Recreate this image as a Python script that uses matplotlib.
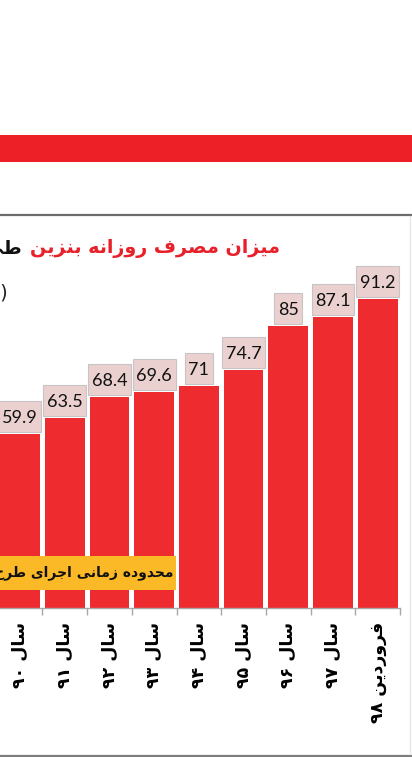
import matplotlib
matplotlib.use("Agg")
import matplotlib.pyplot as plt
from matplotlib.patches import Rectangle
from matplotlib.lines import Line2D
from matplotlib.transforms import IdentityTransform

# داده‌ها (میلیون لیتر در روز)
years = ["سال ۹۰", "سال ۹۱", "سال ۹۲", "سال ۹۳", "سال ۹۴",
         "سال ۹۵", "سال ۹۶", "سال ۹۷", "فروردین ۹۸"]
consumption = [59.9, 63.5, 68.4, 69.6, 71, 74.7, 85, 87.1, 91.2]
value_labels = ["59.9", "63.5", "68.4", "69.6", "71", "74.7", "85", "87.1", "91.2"]

title_red = "میزان مصرف روزانه بنزین"
title_black = "طی ۹ سال اخیر"
unit_text = "(میلیون لیتر)"
band_text = "محدوده زمانی اجرای طرح ســهمیه‌بندی"

W, H = 412, 757
BAR_RED = "#ee2b2f"

# شکل‌های حروف: منفرد، پایانی، آغازی، میانی
FORMS = {
    'ا': '\uFE8D\uFE8E', 'آ': '\uFE81\uFE82',
    'ب': '\uFE8F\uFE90\uFE91\uFE92', 'ت': '\uFE95\uFE96\uFE97\uFE98',
    'ج': '\uFE9D\uFE9E\uFE9F\uFEA0', 'ح': '\uFEA1\uFEA2\uFEA3\uFEA4',
    'خ': '\uFEA5\uFEA6\uFEA7\uFEA8',
    'د': '\uFEA9\uFEAA', 'ر': '\uFEAD\uFEAE', 'ز': '\uFEAF\uFEB0',
    'س': '\uFEB1\uFEB2\uFEB3\uFEB4', 'ص': '\uFEB9\uFEBA\uFEBB\uFEBC',
    'ط': '\uFEC1\uFEC2\uFEC3\uFEC4', 'ف': '\uFED1\uFED2\uFED3\uFED4',
    'ل': '\uFEDD\uFEDE\uFEDF\uFEE0', 'م': '\uFEE1\uFEE2\uFEE3\uFEE4',
    'ن': '\uFEE5\uFEE6\uFEE7\uFEE8', 'ه': '\uFEE9\uFEEA\uFEEB\uFEEC',
    'و': '\uFEED\uFEEE', 'ی': '\uFEEF\uFEF0\uFEF3\uFEF4',
}
MIRROR = {'(': ')', ')': '('}


def joins_next(c):
    return c == 'ـ' or (c in FORMS and len(FORMS[c]) == 4)


def is_letter(c):
    return c in FORMS or c == 'ـ'


# متن فارسی را به ترتیب دیداری با شکل‌های پیوسته تبدیل می‌کند
def fa(text):
    out = []
    for i, c in enumerate(text):
        if c not in FORMS:
            out.append(MIRROR.get(c, c))
            continue
        f = FORMS[c]
        prev = text[i - 1] if i > 0 else ''
        nxt = text[i + 1] if i + 1 < len(text) else ''
        cp = joins_next(prev)
        cn = len(f) == 4 and is_letter(nxt)
        if cp and cn:
            out.append(f[3])
        elif cp:
            out.append(f[1])
        elif cn:
            out.append(f[2])
        else:
            out.append(f[0])
    vis = out[::-1]
    res, run = [], []
    for c in vis:
        if c.isdigit() or (c == '.' and run):
            run.append(c)
        else:
            if run:
                res.extend(run[::-1])
                run = []
            res.append(c)
    res.extend(run[::-1])
    return ''.join(res).replace('\u200c', '')


def fx(x):
    return x / W


def fy(y):
    return 1 - y / H


fig = plt.figure(figsize=(W / 100, H / 100), dpi=100)
fig.patch.set_facecolor("white")

# نوار قرمز بالا و خطوط قاب
fig.add_artist(Rectangle((0, fy(162)), 1, (162 - 135) / H,
                         transform=fig.transFigure, color="#ed1f27", lw=0))
fig.add_artist(Line2D([0, 1], [fy(215), fy(215)], transform=fig.transFigure,
                      color="#6b6b6b", lw=1.6))
fig.add_artist(Line2D([0, 1], [fy(755.5), fy(755.5)], transform=fig.transFigure,
                      color="#7d7d7d", lw=1.6))
fig.add_artist(Line2D([fx(410), fx(410)], [fy(216), fy(754)], transform=fig.transFigure,
                      color="#e6e6e6", lw=1))

# محورها
x0_px, x1_px = -2.3, 400.0
ybase, ytop = 608, 260
ymin = 19.5
ax = fig.add_axes([fx(x0_px), fy(ybase), (x1_px - x0_px) / W, (ybase - ytop) / H])
ax.set_xlim(-0.5, 8.5)
ax.set_ylim(ymin, ymin + (ybase - ytop) / 4.31)
ax.set_facecolor("none")

pos = list(range(len(consumption)))
ax.bar(pos, consumption, width=0.89, color=BAR_RED, zorder=2)

labels = []
for i, v in enumerate(consumption):
    t = ax.annotate(value_labels[i], (i, v), xytext=(0, 11), textcoords="offset pixels",
                    ha="center", va="baseline", fontsize=13, family="Lato",
                    color="#111111", zorder=5)
    labels.append(t)

for s in ["top", "left", "right"]:
    ax.spines[s].set_visible(False)
ax.spines["bottom"].set_color("#a8a8a8")
ax.spines["bottom"].set_linewidth(1)
ax.set_yticks([])
ax.set_xticks(pos)
ax.set_xticks([p + 0.5 for p in pos], minor=True)
ax.tick_params(axis="x", which="major", length=0, pad=10)
ax.tick_params(axis="x", which="minor", length=5, color="#a8a8a8", width=1)
ax.set_xticklabels([fa(y) for y in years], rotation=90, fontsize=12.5,
                   fontweight="bold", family="DejaVu Sans", va="top", ha="center")

# تیتر: اندازه را طوری تنظیم می‌کنیم که عرض آن حدود ۲۵۰ پیکسل شود
t_red = fig.text(fx(280), fy(248), fa(title_red), ha="right", va="center",
                 fontsize=19, fontweight="bold", color="#e8202a", family="DejaVu Sans")
fig.canvas.draw()
r = fig.canvas.get_renderer()
bb = t_red.get_window_extent(r)
t_red.set_fontsize(19 * 250 / bb.width)
fig.canvas.draw()
bb = t_red.get_window_extent(r)
fig.text(fx(bb.x0 - 7), fy(248), fa(title_black), ha="right", va="center",
         fontsize=t_red.get_fontsize(), fontweight="bold", color="#111111",
         family="DejaVu Sans")
fig.text(fx(7.5), fy(293), fa(unit_text), ha="right", va="center",
         fontsize=14, color="#222222", family="DejaVu Sans")

# کادرهای صورتی پشت برچسب مقادیر
for i, t in enumerate(labels):
    tb = t.get_window_extent(r)
    top_px = ax.transData.transform((i, consumption[i]))[1]
    box = Rectangle((tb.x0 - 3.5, top_px + 2), tb.width + 7, 31,
                    transform=IdentityTransform(), fc="#ebd0d0", ec="#c9c4c4",
                    lw=0.8, zorder=4, clip_on=False)
    ax.add_artist(box)

# کادر نارنجی
fig.add_artist(Rectangle((0, fy(590)), fx(176), (590 - 556) / H,
                         transform=fig.transFigure, color="#fbb827", lw=0, zorder=3))
fig.text(fx(174), fy(573), fa(band_text), ha="right", va="center", fontsize=10,
         fontweight="bold", color="#111111", family="DejaVu Sans", zorder=4)

fig.savefig("out.png", dpi=100)
